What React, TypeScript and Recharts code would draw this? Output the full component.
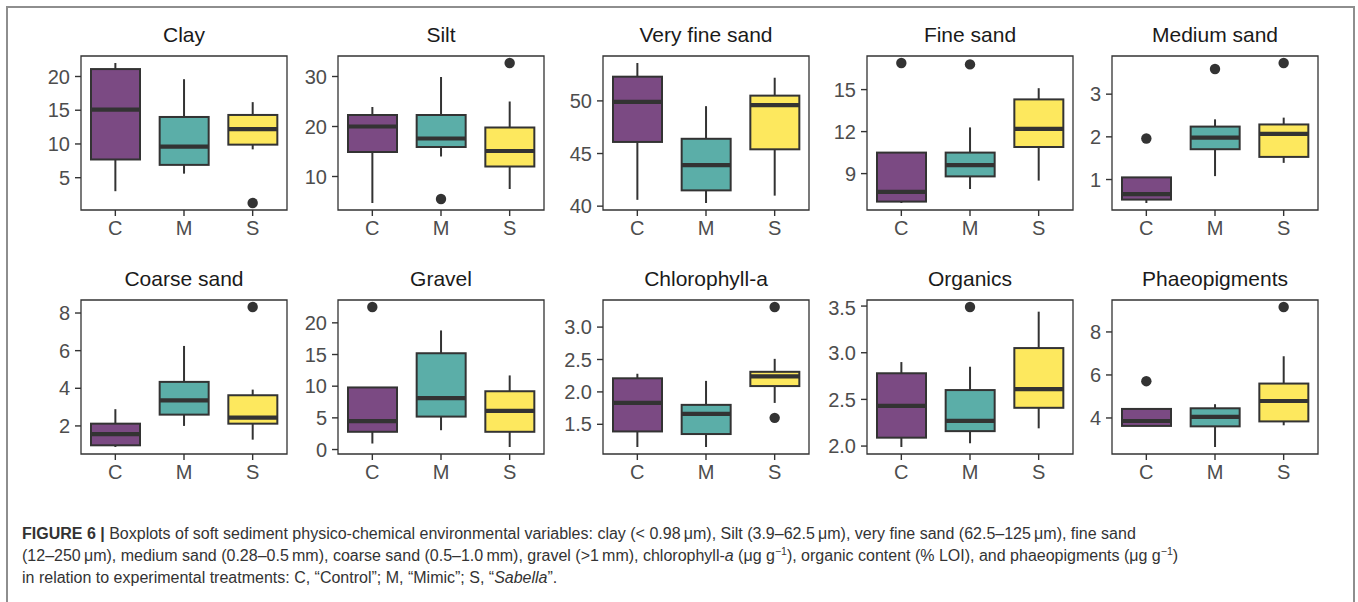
import React from 'react';
import { ComposedChart, Bar, Scatter, XAxis, YAxis, ReferenceArea, Cell } from 'recharts';

const groups = ['C', 'M', 'S'];
const fills = ['#7B4A83', '#5BAEA8', '#FDE85E'];

// every stats row: [lower whisker, Q1, median, Q3, upper whisker] for C, M, S
const clay = [[3.0, 7.7, 15.1, 21.1, 22.0], [5.6, 6.9, 9.6, 14.0, 19.6], [9.2, 9.9, 12.2, 14.3, 16.2]];
const clayOutliers: [string, number][] = [['S', 1.25]];
const clayTicks = [5, 10, 15, 20];

const silt = [[4.7, 14.9, 20.0, 22.3, 23.9], [14.0, 15.9, 17.6, 22.3, 29.9], [7.5, 12.0, 15.1, 19.8, 25.0]];
const siltOutliers: [string, number][] = [['M', 5.5], ['S', 32.7]];
const siltTicks = [10, 20, 30];

const veryFine = [[40.6, 46.1, 49.9, 52.3, 53.6], [40.3, 41.5, 43.9, 46.4, 49.5], [41.0, 45.4, 49.6, 50.5, 52.2]];
const veryFineOutliers: [string, number][] = [];
const veryFineTicks = [40, 45, 50];

const fine = [[6.9, 7.0, 7.7, 10.5, 10.5], [7.9, 8.8, 9.6, 10.5, 12.3], [8.5, 10.9, 12.2, 14.3, 15.1]];
const fineOutliers: [string, number][] = [['C', 16.9], ['M', 16.8]];
const fineTicks = [9, 12, 15];

const medium = [[0.45, 0.53, 0.66, 1.05, 1.05], [1.08, 1.71, 1.98, 2.24, 2.41], [1.39, 1.53, 2.07, 2.29, 2.45]];
const mediumOutliers: [string, number][] = [['C', 1.96], ['M', 3.59], ['S', 3.73]];
const mediumTicks = [1, 2, 3];

const coarse = [[0.88, 0.97, 1.56, 2.12, 2.89], [2.0, 2.6, 3.36, 4.34, 6.25], [1.27, 2.12, 2.44, 3.63, 3.93]];
const coarseOutliers: [string, number][] = [['S', 8.32]];
const coarseTicks = [2, 4, 6, 8];

const gravel = [[0.95, 2.8, 4.5, 9.8, 9.8], [3.05, 5.2, 8.1, 15.2, 18.8], [0.4, 2.8, 6.1, 9.2, 11.7]];
const gravelOutliers: [string, number][] = [['C', 22.5]];
const gravelTicks = [0, 5, 10, 15, 20];

const chla = [[1.15, 1.39, 1.83, 2.21, 2.28], [1.15, 1.35, 1.66, 1.8, 2.17], [1.83, 2.09, 2.24, 2.31, 2.51]];
const chlaOutliers: [string, number][] = [['S', 3.31], ['S', 1.6]];
const chlaTicks = [1.5, 2.0, 2.5, 3.0];

const organics = [[1.99, 2.09, 2.43, 2.78, 2.9], [2.03, 2.16, 2.27, 2.6, 2.85], [2.19, 2.41, 2.61, 3.05, 3.44]];
const organicsOutliers: [string, number][] = [['M', 3.49]];
const organicsTicks = [2.0, 2.5, 3.0, 3.5];

const phaeo = [[3.62, 3.63, 3.86, 4.42, 4.42], [2.65, 3.61, 4.05, 4.45, 4.64], [3.66, 3.84, 4.79, 5.6, 6.87]];
const phaeoOutliers: [string, number][] = [['C', 5.71], ['S', 9.16]];
const phaeoTicks = [4, 6, 8];

const panels = [
  { title: 'Clay', stats: clay, outliers: clayOutliers, ticks: clayTicks, digits: 0 },
  { title: 'Silt', stats: silt, outliers: siltOutliers, ticks: siltTicks, digits: 0 },
  { title: 'Very fine sand', stats: veryFine, outliers: veryFineOutliers, ticks: veryFineTicks, digits: 0 },
  { title: 'Fine sand', stats: fine, outliers: fineOutliers, ticks: fineTicks, digits: 0 },
  { title: 'Medium sand', stats: medium, outliers: mediumOutliers, ticks: mediumTicks, digits: 0 },
  { title: 'Coarse sand', stats: coarse, outliers: coarseOutliers, ticks: coarseTicks, digits: 0 },
  { title: 'Gravel', stats: gravel, outliers: gravelOutliers, ticks: gravelTicks, digits: 0 },
  { title: 'Chlorophyll-a', stats: chla, outliers: chlaOutliers, ticks: chlaTicks, digits: 1 },
  { title: 'Organics', stats: organics, outliers: organicsOutliers, ticks: organicsTicks, digits: 1 },
  { title: 'Phaeopigments', stats: phaeo, outliers: phaeoOutliers, ticks: phaeoTicks, digits: 0 },
];

const COL_X = [81, 338, 603, 867, 1112];
const ROW_Y = [56, 300];
const PLOT_W = 206;
const PLOT_H = 154;
const AXIS_W = 70;
const BOX_W = 49;
const INK = '#333333';
const FONT = '"Liberation Sans", Arial, Helvetica, sans-serif';

// ggplot style: 5% padding around the data range
function paddedDomain(stats: number[][], outliers: [string, number][]): [number, number] {
  const vals = stats.flat().concat(outliers.map((o) => o[1]));
  const lo = Math.min(...vals);
  const hi = Math.max(...vals);
  const pad = (hi - lo) * 0.05;
  return [lo - pad, hi + pad];
}

const WhiskerShape = (props: any) => {
  const cx = props.x + props.width / 2;
  return <line x1={cx} x2={cx} y1={props.y} y2={props.y + props.height} stroke={INK} strokeWidth={2} />;
};

const BoxShape = (props: any) => (
  <rect x={props.x} y={props.y} width={props.width} height={props.height} fill={props.fill} stroke={INK} strokeWidth={2} />
);

const MedianShape = (props: any) => (
  <line x1={props.cx - BOX_W / 2} x2={props.cx + BOX_W / 2} y1={props.cy} y2={props.cy} stroke={INK} strokeWidth={4.2} />
);

const OutlierShape = (props: any) => <circle cx={props.cx} cy={props.cy} r={5.2} fill={INK} />;

function Panel({ p, col, row }: { p: (typeof panels)[number]; col: number; row: number }) {
  const left = COL_X[col];
  const top = ROW_Y[row];
  const domain = paddedDomain(p.stats, p.outliers);
  const rows = groups.map((g, i) => ({
    g,
    whisker: [p.stats[i][0], p.stats[i][4]],
    box: [p.stats[i][1], p.stats[i][3]],
    median: p.stats[i][2],
  }));
  const outRows = p.outliers.map(([g, v]) => ({ g, v }));

  return (
    <>
      <div
        style={{
          position: 'absolute',
          left,
          top: top - 33,
          width: PLOT_W,
          textAlign: 'center',
          fontSize: 21,
          lineHeight: '24px',
          color: '#1a1a1a',
        }}
      >
        {p.title}
      </div>
      <div style={{ position: 'absolute', left: left - AXIS_W, top: top - 4 }}>
        <ComposedChart
          width={AXIS_W + PLOT_W + 4}
          height={4 + PLOT_H + 40}
          data={rows}
          margin={{ top: 4, right: 4, bottom: 0, left: 0 }}
        >
          <XAxis xAxisId="w" dataKey="g" type="category" hide />
          <XAxis
            xAxisId="b"
            dataKey="g"
            type="category"
            allowDuplicatedCategory={false}
            height={40}
            axisLine={false}
            tickSize={6}
            tickMargin={5}
            tickLine={{ stroke: INK, strokeWidth: 1.4 }}
            tick={{ fill: '#4D4D4D', fontSize: 20 }}
          />
          <YAxis
            type="number"
            domain={domain}
            ticks={p.ticks}
            width={AXIS_W}
            axisLine={false}
            tickSize={6}
            tickMargin={5}
            tickLine={{ stroke: INK, strokeWidth: 1.4 }}
            tick={{ fill: '#4D4D4D', fontSize: 20 }}
            tickFormatter={(v: number) => v.toFixed(p.digits)}
          />
          <Bar xAxisId="w" dataKey="whisker" isAnimationActive={false} shape={WhiskerShape} />
          <Bar xAxisId="b" dataKey="box" barSize={BOX_W} isAnimationActive={false} shape={BoxShape}>
            {rows.map((r, i) => (
              <Cell key={r.g} fill={fills[i]} />
            ))}
          </Bar>
          <Scatter xAxisId="b" data={rows} dataKey="median" isAnimationActive={false} shape={MedianShape} />
          {outRows.length > 0 && (
            <Scatter xAxisId="b" data={outRows} dataKey="v" isAnimationActive={false} shape={OutlierShape} />
          )}
          <ReferenceArea
            xAxisId="b"
            y1={domain[0]}
            y2={domain[1]}
            fill="none"
            stroke={INK}
            strokeWidth={1.3}
            ifOverflow="visible"
          />
        </ComposedChart>
      </div>
    </>
  );
}

const supStyle: React.CSSProperties = { fontSize: 10.5, verticalAlign: 'super', lineHeight: 0 };

export default function App() {
  return (
    <div
      style={{
        position: 'absolute',
        left: 0,
        top: 0,
        width: 1358,
        height: 602,
        background: '#fff',
        overflow: 'hidden',
        fontFamily: FONT,
      }}
    >
      <div
        style={{
          position: 'absolute',
          left: 6,
          top: 6,
          width: 1345,
          height: 610,
          border: '2px solid #8E8E8E',
        }}
      />
      {panels.map((p, i) => (
        <Panel key={p.title} p={p} col={i % 5} row={Math.floor(i / 5)} />
      ))}
      <div
        style={{
          position: 'absolute',
          left: 22,
          top: 523,
          fontSize: 16,
          lineHeight: '22px',
          color: '#333',
          whiteSpace: 'nowrap',
        }}
      >
        <div>
          <b>FIGURE 6 |</b> Boxplots of soft sediment physico-chemical environmental variables: clay (&lt; 0.98{'\u2009'}μm),
          Silt (3.9–62.5{'\u2009'}μm), very fine sand (62.5–125{'\u2009'}μm), fine sand
        </div>
        <div>
          (12–250{'\u2009'}μm), medium sand (0.28–0.5{'\u2009'}mm), coarse sand (0.5–1.0{'\u2009'}mm), gravel (&gt;1{'\u2009'}mm),
          chlorophyll-<i>a</i> (μg g<span style={supStyle}>−1</span>), organic content (% LOI), and phaeopigments (μg g
          <span style={supStyle}>−1</span>)
        </div>
        <div>
          in relation to experimental treatments: C, “Control”; M, “Mimic”; S, “<i>Sabella</i>”.
        </div>
      </div>
    </div>
  );
}
